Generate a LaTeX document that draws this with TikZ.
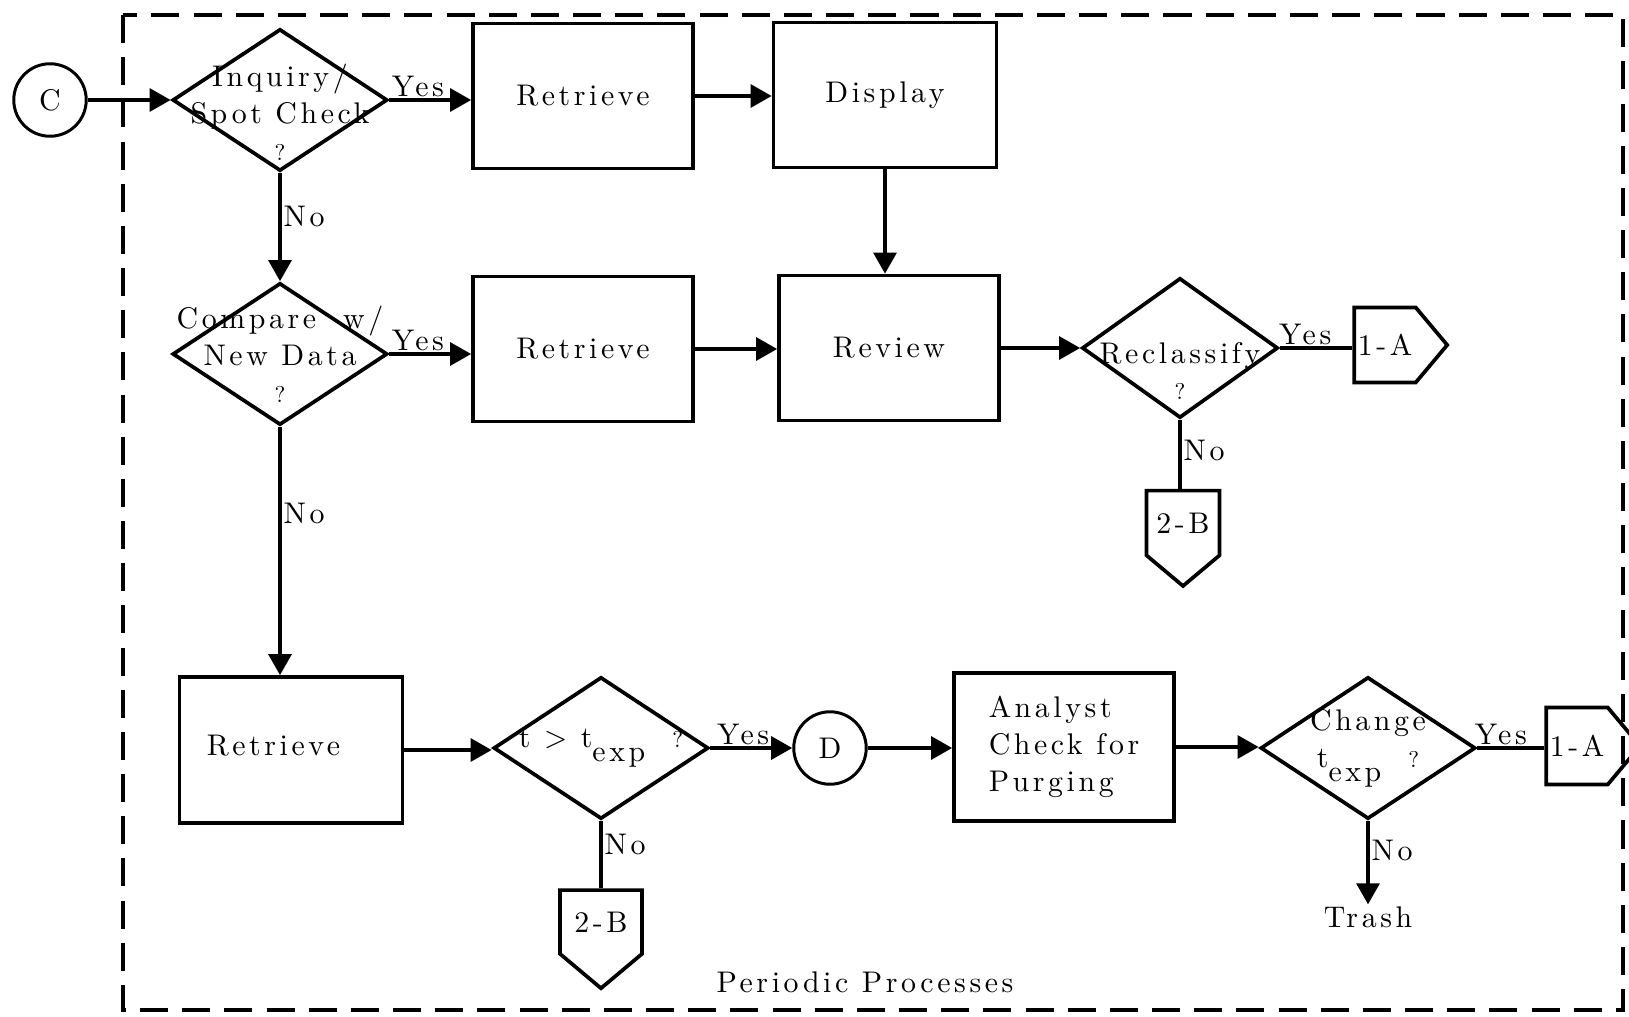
\documentclass[tikz,border=0pt]{standalone}
\usepackage{fontspec}
\setmainfont{lmroman10-regular.otf}[BoldFont=lmroman10-bold.otf,ItalicFont=lmroman10-italic.otf,LetterSpace=12]
\usetikzlibrary{shapes.geometric,shapes.symbols,arrows.meta}
\newcommand{\flowfont}{\fontsize{17}{21}\selectfont}
\newcommand{\qmark}{{\fontsize{13}{15}\selectfont ?}}
\newcommand{\texp}{t\raisebox{-8pt}{exp}}
\tikzset{
  flow/.style={line width=2.1pt,-{Triangle[length=12pt,width=13pt]}},
  plain/.style={line width=2.1pt},
  box/.style={draw,line width=2.1pt,minimum width=4.4cm,minimum height=2.9cm,font=\flowfont},
  decision/.style={draw,diamond,line width=2.1pt,minimum width=4.3cm,minimum height=2.84cm,inner sep=0pt},
  joint/.style={draw,circle,line width=1.7pt,minimum size=1.45cm,font=\flowfont},
  offpage/.style={draw,signal,signal from=nowhere,signal pointer angle=100,line width=2.1pt,font=\flowfont,inner sep=2pt},
  txt/.style={font=\flowfont,align=center,inner sep=0pt},
  lbl/.style={font=\flowfont,inner sep=1pt}
}
\begin{document}
\begin{tikzpicture}[x=0.02cm,y=-0.02cm]
\useasboundingbox (0,0) rectangle (1629,1017);
\draw[line width=2.6pt,dash pattern=on 16pt off 8pt] (123,15) rectangle (1623,1010);

\node[joint] (C) at (50,100) {C};
\node[decision] (inq) at (280,100) {};
\node[txt] (inqtxt) at ([yshift=-0.24cm]inq) {Inquiry/\\Spot Check\\\qmark};
\node[box] (ret1) at (583,96) {Retrieve};
\node[box,minimum width=4.46cm] (disp) at (885,95) {Display};

\node[decision] (cmp) at (280,354) {};
\node[txt] (cmptxt) at (cmp) {Compare\ \ w/\\New Data\\\qmark};
\node[box] (ret2) at (583,349) {Retrieve};
\node[box] (rev) at (889,348) {Review};
\node[decision,minimum width=3.92cm,minimum height=2.8cm] (recl) at (1180,348) {};
\node[txt] (recltxt) at ([yshift=-0.46cm]recl) {Reclassify\\\qmark};
\node[offpage,signal to=east,minimum height=1.5cm,minimum width=1.6cm] (oA1) at (1385,345) {1-A};
\node[offpage,signal to=south,minimum width=1.46cm,minimum height=1.8cm] (oB1) at (1183,523) {2-B};

\node[box,minimum width=4.46cm,minimum height=2.92cm] (ret3) at (291,750) {\raisebox{0.2cm}{Retrieve}\kern0.7cm};
\node[decision] (tgt) at (601,748) {};
\node[txt] (tgttxt) at (tgt) {t > \texp\ \ \qmark};
\node[joint] (D) at (830,748) {D};
\node[box,minimum height=2.96cm,align=left] (ana) at (1064,747) {Analyst\\Check for\\Purging};
\node[decision] (chg) at (1368,748) {};
\node[txt] (chgtxt) at (chg) {Change\\\texp\ \ \qmark};
\node[offpage,signal to=east,minimum height=1.54cm,minimum width=1.82cm] (oA2) at (1577,746) {1-A};
\node[offpage,signal to=south,minimum width=1.64cm,minimum height=1.78cm] (oB2) at (601,922) {2-B};
\node[lbl] (trash) at (1368,917) {Trash};
\node[lbl] (title) at (865,982) {Periodic Processes};

\draw[flow] (C) -- (inq.west);
\draw[flow] (inq.east) -- node[lbl,above,pos=0.35] {Yes} (inq.east -| ret1.west);
\draw[flow] (ret1.east) -- (ret1.east -| disp.west);
\draw[flow] (disp.south) -- (disp.south |- rev.north);
\draw[flow] (inq.south) -- node[lbl,right,pos=0.4] {No} (cmp.north);
\draw[flow] (cmp.east) -- node[lbl,above,pos=0.35] {Yes} (cmp.east -| ret2.west);
\draw[flow] (ret2.east) -- (ret2.east -| rev.west);
\draw[flow] (rev.east) -- (rev.east -| recl.west);
\draw[plain] (recl.east) -- node[lbl,above,pos=0.35] {Yes} (recl.east -| oA1.west);
\draw[plain] (recl.south) -- node[lbl,right,pos=0.45] {No} (recl.south |- oB1.north);
\draw[flow] (cmp.south) -- node[lbl,right,pos=0.35] {No} (cmp.south |- ret3.north);
\draw[flow] (ret3.east) -- (ret3.east -| tgt.west);
\draw[flow] (tgt.east) -- node[lbl,above,pos=0.4] {Yes} (D.west);
\draw[plain] (tgt.south) -- node[lbl,right,pos=0.35] {No} (tgt.south |- oB2.north);
\draw[flow] (D.east) -- (D.east -| ana.west);
\draw[flow] (ana.east) -- (ana.east -| chg.west);
\draw[plain] (chg.east) -- node[lbl,above,pos=0.35] {Yes} (chg.east -| oA2.west);
\draw[flow] (chg.south) -- node[lbl,right,pos=0.35] {No} (trash.north);
\end{tikzpicture}
\end{document}
